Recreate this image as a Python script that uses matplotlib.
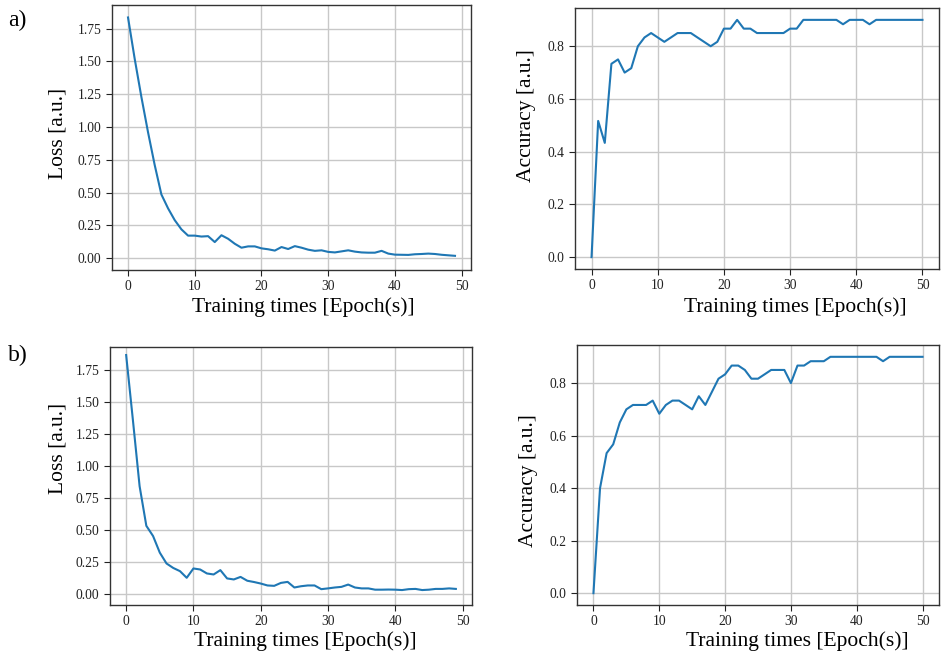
import matplotlib
matplotlib.use("Agg")
import matplotlib.pyplot as plt
import numpy as np

# loss curves (epochs 0..49)
loss_a = [1.835, 1.52, 1.23, 0.96, 0.71, 0.486, 0.38, 0.29, 0.22, 0.172,
          0.172, 0.165, 0.168, 0.123, 0.175, 0.148, 0.11, 0.08, 0.09, 0.09,
          0.075, 0.068, 0.058, 0.085, 0.07, 0.092, 0.08, 0.065, 0.056, 0.06,
          0.048, 0.044, 0.052, 0.06, 0.05, 0.044, 0.042, 0.042, 0.056, 0.035,
          0.027, 0.026, 0.025, 0.03, 0.032, 0.035, 0.032, 0.026, 0.022, 0.018]
loss_b = [1.867, 1.36, 0.84, 0.53, 0.45, 0.32, 0.235, 0.2, 0.175, 0.123,
          0.196, 0.188, 0.157, 0.149, 0.183, 0.118, 0.11, 0.13, 0.1, 0.09,
          0.078, 0.063, 0.06, 0.083, 0.091, 0.047, 0.057, 0.063, 0.063, 0.034,
          0.04, 0.047, 0.052, 0.07, 0.047, 0.04, 0.04, 0.03, 0.03, 0.031,
          0.03, 0.027, 0.034, 0.036, 0.027, 0.03, 0.036, 0.036, 0.04, 0.036]

# accuracy curves (epochs 0..50)
acc_a = [0.0, 0.5167, 0.4333, 0.7333, 0.75, 0.7, 0.7167, 0.8, 0.8333, 0.85,
         0.8333, 0.8167, 0.8333, 0.85, 0.85, 0.85, 0.8333, 0.8167, 0.8, 0.8167,
         0.8667, 0.8667, 0.9, 0.8667, 0.8667, 0.85, 0.85, 0.85, 0.85, 0.85,
         0.8667, 0.8667, 0.9, 0.9, 0.9, 0.9, 0.9, 0.9, 0.8833, 0.9,
         0.9, 0.9, 0.8833, 0.9, 0.9, 0.9, 0.9, 0.9, 0.9, 0.9, 0.9]
acc_b = [0.0, 0.4, 0.5333, 0.5667, 0.65, 0.7, 0.7167, 0.7167, 0.7167, 0.7333,
         0.6833, 0.7167, 0.7333, 0.7333, 0.7167, 0.7, 0.75, 0.7167, 0.7667, 0.8167,
         0.8333, 0.8667, 0.8667, 0.85, 0.8167, 0.8167, 0.8333, 0.85, 0.85, 0.85,
         0.8, 0.8667, 0.8667, 0.8833, 0.8833, 0.8833, 0.9, 0.9, 0.9, 0.9,
         0.9, 0.9, 0.9, 0.9, 0.8833, 0.9, 0.9, 0.9, 0.9, 0.9, 0.9]

xlabel = "Training times [Epoch(s)]"
row_tags = ["a)", "b)"]

plt.rcParams["font.family"] = ["Liberation Serif", "DejaVu Serif"]

W, H = 941, 656
fig = plt.figure(figsize=(W / 100, H / 100), dpi=100)


def px_axes(left, top, right, bottom):
    return fig.add_axes([left / W, 1 - bottom / H, (right - left) / W, (bottom - top) / H])


def px_text(x, y, s, **kw):
    fig.text(x / W, 1 - y / H, s, **kw)


# axes boxes in pixels: left, top, right, bottom
boxes = [
    (112, 5, 471, 270),
    (575, 8, 939, 269),
    (110, 347, 472, 605),
    (577, 345, 939, 605),
]
# label centres in pixels: (xlabel x, xlabel y), (ylabel x, ylabel y)
xlab_pos = [(303, 307), (795, 307), (305, 641), (797, 641)]
ylab_pos = [(58, 133), (527, 116), (58, 448), (529, 481)]

series = [(loss_a, "Loss [a.u.]"), (acc_a, "Accuracy [a.u.]"),
          (loss_b, "Loss [a.u.]"), (acc_b, "Accuracy [a.u.]")]

for i, (box, (vals, ylab)) in enumerate(zip(boxes, series)):
    ax = px_axes(*box)
    ax.plot(np.arange(len(vals)), vals, color="#1f77b4", lw=1.5)
    ax.grid(True, color="#c8c8c8", lw=1.0)
    ax.set_axisbelow(True)
    for s in ax.spines.values():
        s.set_color("#333333")
        s.set_linewidth(1.0)
    ax.tick_params(labelsize=9.8, colors="#222222", length=4)
    ax.set_xticks([0, 10, 20, 30, 40, 50])
    if "Loss" in ylab:
        ax.set_yticks([0, 0.25, 0.5, 0.75, 1.0, 1.25, 1.5, 1.75])
        ax.set_yticklabels(["0.00", "0.25", "0.50", "0.75", "1.00", "1.25", "1.50", "1.75"])
        ax.set_xlim(-2.4, 51.4)
        ax.set_ylim(-0.09, 1.93)
    else:
        ax.set_yticks([0, 0.2, 0.4, 0.6, 0.8])
        ax.set_ylim(-0.045, 0.945)
        ax.set_xlim(-2.5, 52.5)
    px_text(*xlab_pos[i], xlabel, fontsize=15.5, ha="center", va="center")
    px_text(*ylab_pos[i], ylab, fontsize=15.5, ha="center", va="center", rotation=90)

px_text(8, 20, row_tags[0], fontsize=17, va="center", ha="left")
px_text(8, 355, row_tags[1], fontsize=17, va="center", ha="left")

fig.savefig("out.png", dpi=100, facecolor="white")
